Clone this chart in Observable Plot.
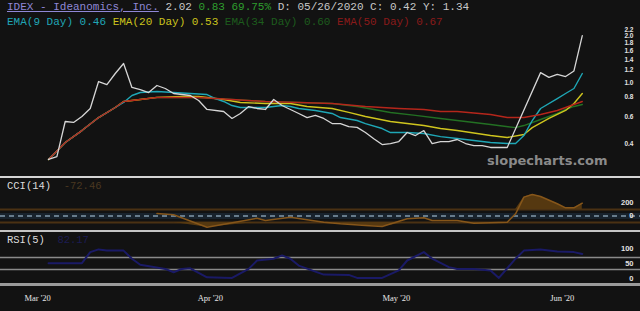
<!DOCTYPE html>
<html><head><meta charset="utf-8">
<script src="https://cdn.jsdelivr.net/npm/d3@7"></script>
<script src="https://cdn.jsdelivr.net/npm/@observablehq/plot@0.6"></script>
<style>
html,body{margin:0;padding:0;background:#121212;width:640px;height:311px;overflow:hidden;}
#root{position:relative;width:640px;height:311px;background:#121212;}
.abs{position:absolute;}
.mono{font-family:"Liberation Mono","DejaVu Sans Mono",monospace;white-space:pre;}
svg{display:block;}
</style></head><body><div id="root"></div>
<script>
// ---------- data (trading-day index, value) ----------
const priceClose = [[0,0.315],[1,0.329],[2,0.557],[3,0.549],[4,0.60],[5,0.677],[6,1.015],[7,0.97],[8,1.145],[9,1.33],[10,0.928],[11,0.90],[12,0.86],[13,0.956],[14,0.914],[15,0.848],[17,0.823],[18,0.763],[19,0.667],[21,0.647],[22,0.583],[23,0.628],[24,0.697],[25,0.677],[26,0.667],[27,0.775],[28,0.708],[30,0.628],[31,0.59],[32,0.61],[33,0.583],[34,0.54],[35,0.54],[36,0.516],[37,0.51],[38,0.472],[39,0.43],[40,0.394],[41,0.40],[42,0.412],[43,0.472],[44,0.451],[45,0.486],[46,0.40],[47,0.412],[48,0.412],[49,0.425],[50,0.40],[51,0.388],[52,0.388],[53,0.377],[54,0.377],[55,0.377],[59,1.16],[60,1.08],[61,1.13],[62,1.094],[63,1.19],[64,2.02]];
const ema9 = [[0,0.315],[2,0.406],[4,0.486],[6,0.591],[8,0.687],[9,0.741],[10,0.823],[11,0.861],[13,0.874],[15,0.861],[17,0.848],[19,0.835],[20,0.786],[21,0.752],[22,0.708],[23,0.687],[25,0.687],[26,0.687],[28,0.708],[29,0.698],[30,0.677],[32,0.657],[34,0.628],[35,0.591],[37,0.565],[38,0.540],[40,0.501],[41,0.472],[43,0.472],[45,0.465],[47,0.444],[49,0.431],[53,0.406],[55,0.40],[56,0.40],[57,0.451],[58,0.565],[59,0.677],[61,0.786],[62,0.848],[63,0.914],[64,1.145]];
const ema20 = [[0,0.315],[2,0.406],[4,0.486],[6,0.591],[8,0.687],[9,0.752],[11,0.775],[13,0.80],[16,0.81],[18,0.81],[21,0.775],[23,0.741],[26,0.730],[29,0.730],[31,0.698],[34,0.677],[36,0.638],[38,0.60],[41,0.557],[43,0.54],[45,0.524],[47,0.501],[49,0.486],[53,0.451],[55,0.438],[57,0.458],[58,0.508],[60,0.583],[62,0.657],[63,0.730],[64,0.848]];
const ema34 = [[0,0.315],[2,0.406],[4,0.486],[6,0.591],[8,0.687],[9,0.752],[11,0.775],[13,0.798],[18,0.798],[20,0.786],[22,0.775],[26,0.752],[30,0.741],[34,0.730],[37,0.698],[41,0.638],[44,0.610],[47,0.583],[49,0.565],[53,0.532],[56,0.508],[57,0.524],[59,0.574],[61,0.628],[62,0.667],[63,0.698],[64,0.719]];
const ema50 = [[0,0.315],[2,0.406],[4,0.486],[6,0.591],[8,0.687],[9,0.752],[11,0.775],[13,0.798],[17,0.798],[18,0.798],[20,0.786],[22,0.775],[26,0.752],[30,0.741],[34,0.730],[38,0.698],[42,0.677],[45,0.667],[47,0.647],[49,0.647],[53,0.619],[55,0.591],[57,0.591],[59,0.619],[61,0.657],[62,0.687],[64,0.752]];
const cci14 = [[13,40],[15,20],[19,-172],[25,-34],[26,-70],[29,-18],[33,-95],[35,-120],[38,-146],[40,-160],[43,-43],[45,-28],[46,-70],[49,-70],[51,-110],[55,-95],[56,34],[57,290],[58,330],[59,300],[61,188],[62,126],[63,126],[64,197]];
const rsi5 = [[0,51],[4,51],[5,88],[6,97],[7,93],[9,93],[10,66],[11,46],[14,32],[15,21],[16,32],[17,34],[19,4],[22,2],[24,32],[25,60],[27,66],[28,77],[29,66],[30,43],[33,13],[36,12],[37,2],[40,2],[42,27],[43,60],[45,88],[46,66],[48,38],[49,32],[51,32],[53,27],[54,2],[56,66],[57,93],[59,97],[61,90],[63,88],[64,82]];
const priceTicks = [0.4,0.6,0.8,1.0,1.2,1.4,1.6,1.8,2.0,2.2];
const cciTicks = [0,200];
const cciBands = [100,-100];
const rsiTicks = [0,50,100];
const rsiBands = [70,30];
const monthTickPos = [-1.3,19.4,41.7,61.6];
const monthTickLabels = ["Mar '20","Apr '20","May '20","Jun '20"];
const headerLine1 = [["IDEX - Ideanomics, Inc.","#8f87d6",true],[" 2.02","#c8c8c8"],[" 0.83 69.75%","#2e9e2e"],[" D: 05/26/2020 C: 0.42 Y: 1.34","#c8c8c8"]];
const headerLine2 = [["EMA(9 Day) 0.46","#20a6b6"],[" EMA(20 Day) 0.53","#cbc31c"],[" EMA(34 Day) 0.60","#1d5c1d"],[" EMA(50 Day) 0.67","#8a1a1a"]];

// ---------- layout helpers ----------
const root = document.getElementById("root");
function place(el, top, left){ el.classList.add("abs"); el.style.top = top+"px"; el.style.left = (left||0)+"px"; root.appendChild(el); return el; }
function textDiv(parts, top, left, size){
  const d = document.createElement("div"); d.className = "mono";
  d.style.fontSize = size+"px"; d.style.lineHeight = "15px";
  for (const [t,c,u] of parts){ const s=document.createElement("span"); s.textContent=t; s.style.color=c; if(u){s.style.textDecoration="underline";} d.appendChild(s); }
  return place(d, top, left);
}
function hline(top, h, color){ const d=document.createElement("div"); d.style.width="640px"; d.style.height=h+"px"; d.style.background=color; d.style.zIndex=5; return place(d, top, 0); }

const X = {domain:[-5.76, 70.98], axis:null};
const base = {width:640, marginLeft:0, marginRight:0, marginTop:0, marginBottom:0, style:{background:"transparent", overflow:"visible"}};
const xy = {x:d=>d[0], y:d=>d[1]};
const lab = (fill, size)=>({frameAnchor:"right", dx:-7, textAnchor:"end", fill, fontSize:size||7.5, fontFamily:"Liberation Sans, Arial, sans-serif", fontWeight:"bold"});

// ---------- price panel ----------
const pricePlot = Plot.plot({...base, height:149, x:X,
  y:{type:"log", domain:[0.2402,2.25], axis:null},
  marks:[
    Plot.text(["slopecharts.com"], {frameAnchor:"bottom-right", dx:-33, dy:-17, lineAnchor:"middle", textAnchor:"end", fill:"#8a8a8a", fontSize:13, fontWeight:"bold", fontFamily:"DejaVu Sans, Verdana, sans-serif"}),
    Plot.line(ema34, {...xy, stroke:"#237023", strokeWidth:1.4}),
    Plot.line(ema20, {...xy, stroke:"#cfc51e", strokeWidth:1.4}),
    Plot.line(ema9, {...xy, stroke:"#1fa7b6", strokeWidth:1.4}),
    Plot.line(ema50, {...xy, stroke:"#b5261b", strokeWidth:1.4}),
    Plot.line(priceClose, {...xy, stroke:"#d6d6d6", strokeWidth:1.3}),
    Plot.text(priceTicks, {y:d=>d, text:d=>d.toFixed(1), ...lab("#e2e2e2", 6.5)})
  ]});
place(pricePlot, 28, 0);

// ---------- CCI panel ----------
const cciPlot = Plot.plot({...base, height:54, x:X,
  y:{domain:[-238,592], axis:null},
  marks:[
    Plot.ruleY([0], {stroke:"#18222c", strokeWidth:6}),
    Plot.ruleY(cciBands, {stroke:"#4a3113", strokeWidth:2}),
    Plot.areaY(cci14, {x:d=>d[0], y1:100, y2:d=>Math.max(d[1],100), fill:"#553810"}),
    Plot.areaY(cci14, {x:d=>d[0], y1:-100, y2:d=>Math.min(d[1],-100), fill:"#553810"}),
    Plot.ruleY([0], {stroke:"#8199aa", strokeWidth:1.5, strokeDasharray:"5,4"}),
    Plot.line(cci14, {...xy, stroke:"#86561a", strokeWidth:1.5}),
    Plot.text(cciTicks, {y:d=>d, text:d=>String(d), ...lab("#e2e2e2")})
  ]});
place(cciPlot, 177, 0);

// ---------- RSI panel ----------
const rsiPlot = Plot.plot({...base, height:53, x:X,
  y:{domain:[-20,156.7], axis:null},
  marks:[
    Plot.ruleY(rsiBands, {stroke:"#8a8a8a", strokeWidth:1.5}),
    Plot.line(rsi5, {...xy, stroke:"#1a1a66", strokeWidth:2}),
    Plot.text(rsiTicks, {y:d=>d, text:d=>String(d), ...lab("#e2e2e2")})
  ]});
place(rsiPlot, 231, 0);

// ---------- x axis ----------
const axisPlot = Plot.plot({...base, height:27, x:X,
  marks:[
    Plot.text(monthTickPos, {x:d=>d, text:(d,i)=>monthTickLabels[i], frameAnchor:"middle", fill:"#e6e6e6", fontSize:8.5, fontFamily:"Liberation Serif, Times New Roman, serif"})
  ]});
place(axisPlot, 284, 0);

// ---------- header & panel labels ----------
textDiv(headerLine1, 0, 7, 11);
textDiv(headerLine2, 15, 7, 11);
textDiv([["CCI(14)","#dcdcdc"],["  -72.46","#4a3820"]], 178.5, 7, 10.5);
textDiv([["RSI(5)","#dcdcdc"],["  82.17","#1c1c52"]], 232.5, 7, 10.5);

// separators
hline(176, 2, "#d4d4d4");
hline(230, 2, "#c4c4c4");
hline(283, 3, "#9a9a9a");
</script></body></html>
